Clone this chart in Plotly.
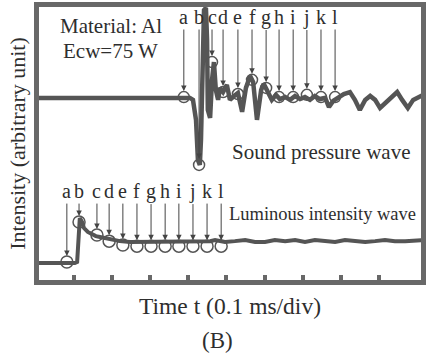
import plotly.graph_objects as go

# ---------------- data (time in ms, intensity in arbitrary units) ----------------
t_sound = [0, 0.404, 0.412, 0.420, 0.425, 0.430, 0.433, 0.438, 0.441, 0.446, 0.449, 0.451,
           0.457, 0.462, 0.467, 0.472, 0.478, 0.483, 0.491, 0.501, 0.509, 0.520, 0.530, 0.541,
           0.551, 0.562, 0.570, 0.580, 0.591, 0.598, 0.609, 0.619, 0.630, 0.640, 0.654, 0.667,
           0.680, 0.693, 0.706, 0.719, 0.732, 0.745, 0.759, 0.769, 0.780, 0.793, 0.808, 0.824,
           0.837, 0.850, 0.864, 0.877, 0.890, 0.903, 0.919, 0.934, 0.948, 0.961, 0.976, 0.990, 1.016]
i_sound = [66.2, 66.2, 65.5, 58.3, 43.9, 42.1, 51.1, 79.9, 97.8, 98.6, 87.1, 61.9,
           59.0, 72.7, 79.1, 69.1, 65.5, 69.8, 68.3, 70.9, 65.5, 66.9, 68.0, 61.2,
           69.8, 74.1, 71.9, 58.3, 69.1, 71.2, 68.3, 65.5, 67.3, 65.8, 66.5, 65.5,
           66.9, 65.8, 66.5, 65.5, 66.9, 65.8, 66.2, 62.9, 65.1, 66.2, 67.6, 68.3,
           65.5, 61.9, 65.5, 66.9, 65.5, 62.6, 64.7, 66.9, 68.3, 65.5, 62.6, 65.5, 67.3]

t_lum = [0, 0.102, 0.108, 0.113, 0.115, 0.121, 0.126, 0.136, 0.147, 0.157, 0.168, 0.181,
         0.194, 0.220, 0.247, 0.273, 0.299, 0.325, 0.352, 0.378, 0.404, 0.430, 0.457, 0.470,
         0.496, 0.522, 0.549, 0.575, 0.601, 0.627, 0.654, 0.680, 0.706, 0.732, 0.759, 0.785,
         0.811, 0.837, 0.864, 0.890, 0.916, 0.942, 0.969, 1.016]
i_lum = [6.8, 6.8, 7.2, 20.5, 23.0, 21.6, 19.4, 18.0, 17.3, 16.5, 16.2, 15.8,
         15.5, 14.7, 14.4, 14.4, 14.4, 14.4, 14.4, 14.7, 14.4, 14.7, 14.7, 15.1,
         14.4, 14.7, 15.1, 14.4, 14.4, 15.1, 14.7, 15.1, 14.4, 15.1, 14.7, 14.4,
         15.1, 14.7, 14.4, 14.7, 15.1, 14.7, 14.7, 15.1]

mark_labels = ["a", "b", "c", "d", "e", "f", "g", "h", "i", "j", "k", "l"]
t_sound_mark = [0.388, 0.428, 0.462, 0.491, 0.530, 0.567, 0.604, 0.638, 0.675, 0.711, 0.748, 0.785]
i_sound_mark = [66.5, 42.1, 79.1, 68.3, 67.6, 72.7, 69.8, 66.5, 66.5, 67.3, 66.5, 66.5]
t_lum_mark = [0.081, 0.113, 0.160, 0.192, 0.228, 0.265, 0.302, 0.339, 0.375, 0.412, 0.449, 0.486]
i_lum_mark = [7.2, 21.6, 16.9, 14.7, 13.3, 12.9, 12.9, 12.9, 12.9, 12.9, 12.9, 12.9]
sound_label_level = 95.3
lum_label_level = 32.7

x_ticks = [0.1, 0.2, 0.3, 0.4, 0.5, 0.6, 0.7, 0.8, 0.9]

# ---------------- styles ----------------
WAVE = "#555555"
FRAME = "#686868"
TEXT = "#2e2e2e"
SERIF = "Liberation Serif, Times New Roman, serif"

fig = go.Figure()
fig.add_trace(go.Scatter(x=t_sound, y=i_sound, mode="lines",
                         line=dict(color=WAVE, width=4.5), hoverinfo="skip"))
fig.add_trace(go.Scatter(x=t_lum, y=i_lum, mode="lines",
                         line=dict(color=WAVE, width=4), hoverinfo="skip"))
fig.add_trace(go.Scatter(x=t_sound_mark, y=i_sound_mark, mode="markers",
                         marker=dict(symbol="circle-open", size=11, color=WAVE,
                                     line=dict(width=1.5, color=WAVE)), hoverinfo="skip"))
fig.add_trace(go.Scatter(x=t_lum_mark, y=i_lum_mark, mode="markers",
                         marker=dict(symbol="circle-open", size=12, color=WAVE,
                                     line=dict(width=1.5, color=WAVE)), hoverinfo="skip"))

annotations = []
for lab, tx, iy in zip(mark_labels, t_sound_mark, i_sound_mark):
    annotations.append(dict(x=tx, y=iy, ax=tx, ay=sound_label_level, xref="x", yref="y",
                            axref="x", ayref="y", text=lab, showarrow=True,
                            arrowhead=2, arrowsize=1.1, arrowwidth=1, arrowcolor="#444",
                            standoff=6, font=dict(family=SERIF, size=20, color=TEXT)))
for lab, tx, iy in zip(mark_labels, t_lum_mark, i_lum_mark):
    annotations.append(dict(x=tx, y=iy, ax=tx, ay=lum_label_level, xref="x", yref="y",
                            axref="x", ayref="y", text=lab, showarrow=True,
                            arrowhead=2, arrowsize=1.1, arrowwidth=1, arrowcolor="#444",
                            standoff=6, font=dict(family=SERIF, size=20, color=TEXT)))

def txt(s, x, y, size, xanchor="left"):
    return dict(x=x, y=y, xref="x", yref="y", text=s, showarrow=False, xanchor=xanchor,
                yanchor="middle", font=dict(family=SERIF, size=size, color=TEXT))

annotations += [
    txt("Material: Al", 0.058, 92.0, 21),
    txt("Ecw=75 W", 0.066, 83.2, 21),
    txt("Sound pressure wave", 0.509, 46.8, 21),
    txt("Luminous intensity wave", 0.501, 24.5, 18.5),
    dict(x=0.466, y=-0.22, xref="paper", yref="paper", text="(B)", showarrow=False,
         xanchor="center", yanchor="middle", font=dict(family=SERIF, size=23, color=TEXT)),
]

fig.update_layout(
    width=430, height=361,
    margin=dict(l=39, r=9, t=7, b=81),
    paper_bgcolor="white", plot_bgcolor="white",
    showlegend=False,
    annotations=annotations,
    xaxis=dict(range=[0.0079, 1.0105], showgrid=False, zeroline=False, automargin=False,
               showline=True, mirror=True, linecolor=FRAME, linewidth=5,
               ticks="inside", tickvals=x_ticks, ticklen=5, tickwidth=4, tickcolor=FRAME,
               showticklabels=False,
               title=dict(text="Time t (0.1 ms/div)", standoff=15,
                          font=dict(family=SERIF, size=23.5, color=TEXT))),
    yaxis=dict(range=[0.72, 98.9], showgrid=False, zeroline=False, automargin=False,
               showline=True, mirror=True, linecolor=FRAME, linewidth=5,
               ticks="", showticklabels=False,
               title=dict(text="Intensity (arbitrary unit)", standoff=4,
                          font=dict(family=SERIF, size=22, color=TEXT))),
)

fig.write_html("out.html", config={"displayModeBar": False},
               post_script="document.body.style.margin='0';")
